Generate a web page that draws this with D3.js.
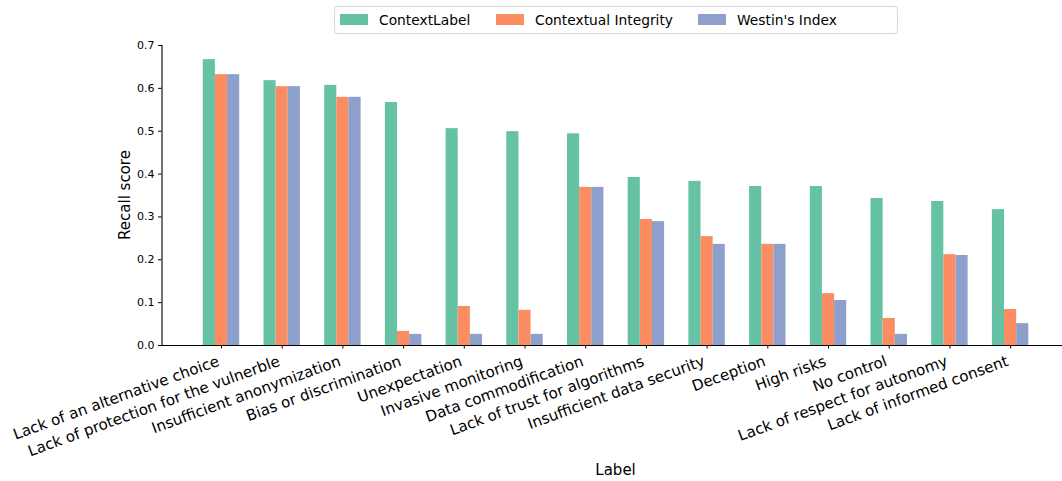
<!DOCTYPE html>
<html>
<head>
<meta charset="utf-8">
<script src="https://cdn.jsdelivr.net/npm/d3@7"></script>
<style>
  html, body { margin: 0; padding: 0; background: #fff; }
  svg { display: block; font-family: "DejaVu Sans", sans-serif; }
</style>
</head>
<body>
<svg id="chart" width="1062" height="481"></svg>
<script>
// Privacy-harm labels and recall per method
const categories = [
  "Lack of an alternative choice",
  "Lack of protection for the vulnerble",
  "Insufficient anonymization",
  "Bias or discrimination",
  "Unexpectation",
  "Invasive monitoring",
  "Data commodification",
  "Lack of trust for algorithms",
  "Insufficient data security",
  "Deception",
  "High risks",
  "No control",
  "Lack of respect for autonomy",
  "Lack of informed consent"
];
const seriesNames = ["ContextLabel", "Contextual Integrity", "Westin's Index"];
const contextLabel = [0.667, 0.618, 0.607, 0.567, 0.506, 0.499, 0.494, 0.392, 0.383, 0.371, 0.371, 0.343, 0.336, 0.317];
const contextualIntegrity = [0.632, 0.604, 0.579, 0.033, 0.091, 0.082, 0.369, 0.294, 0.254, 0.236, 0.121, 0.063, 0.212, 0.084];
const westinIndex = [0.632, 0.604, 0.579, 0.026, 0.026, 0.026, 0.369, 0.289, 0.236, 0.236, 0.105, 0.026, 0.210, 0.051];
const yTicks = [0.0, 0.1, 0.2, 0.3, 0.4, 0.5, 0.6, 0.7];
const colors = ["#66c2a5", "#fc8d62", "#8da0cb"];

const series = [contextLabel, contextualIntegrity, westinIndex];
const barWidth = 0.2;
const offsets = [-0.2, 0, 0.2];

const svg = d3.select("#chart");
const plot = { left: 161.5, right: 1069.6, top: 45, bottom: 345 };

const x = d3.scaleLinear().domain([-0.98, 13.98]).range([plot.left, plot.right]);
const y = d3.scaleLinear().domain([0, 0.7]).range([plot.bottom, plot.top]);
const bw = x(barWidth) - x(0);

// bars
series.forEach((vals, s) => {
  svg.append("g")
    .selectAll("rect")
    .data(vals)
    .join("rect")
    .attr("x", (d, i) => x(i + offsets[s]) - bw / 2)
    .attr("width", bw)
    .attr("y", d => y(d))
    .attr("height", d => y(0) - y(d))
    .attr("fill", colors[s]);
});

// y axis
const yAxis = svg.append("g")
  .attr("transform", `translate(${plot.left},0)`)
  .call(d3.axisLeft(y).tickValues(yTicks).tickFormat(d3.format(".1f")).tickSize(3.5).tickPadding(3.5));
yAxis.select(".domain").attr("stroke", "#000").attr("stroke-width", 1.1);
yAxis.selectAll(".tick line").attr("stroke", "#000").attr("stroke-width", 1);
yAxis.selectAll(".tick text")
  .attr("font-family", "DejaVu Sans")
  .attr("font-size", 11)
  .attr("fill", "#000");

// x axis with rotated, right-aligned category labels
const xAxis = svg.append("g")
  .attr("transform", `translate(0,${plot.bottom})`)
  .call(d3.axisBottom(x).tickValues(d3.range(categories.length)).tickFormat(i => categories[i]).tickSize(3.5).tickSizeOuter(0));
xAxis.select(".domain").attr("stroke", "#000").attr("stroke-width", 1.1);
xAxis.selectAll(".tick line").attr("stroke", "#000").attr("stroke-width", 1);
const labelFs = 15.1;
xAxis.selectAll(".tick text")
  .attr("font-family", "DejaVu Sans")
  .attr("font-size", labelFs)
  .attr("fill", "#000")
  .attr("text-anchor", "end")
  .attr("y", 0)
  .attr("dy", 0)
  .attr("transform", `translate(${-0.342 * 0.24 * labelFs},${7 + 0.94 * 0.93 * labelFs}) rotate(-20)`);

// axis titles
svg.append("text")
  .attr("x", x(6.5))
  .attr("y", 475)
  .attr("text-anchor", "middle")
  .attr("font-size", 15)
  .attr("fill", "#000")
  .text("Label");

svg.append("text")
  .attr("transform", `translate(130,${(plot.top + plot.bottom) / 2}) rotate(-90)`)
  .attr("text-anchor", "middle")
  .attr("font-size", 15)
  .attr("fill", "#000")
  .text("Recall score");

// legend
const legend = svg.append("g");
legend.append("rect")
  .attr("x", 334.5).attr("y", 6.5)
  .attr("width", 563).attr("height", 27)
  .attr("rx", 3)
  .attr("fill", "#fff").attr("fill-opacity", 0.8)
  .attr("stroke", "#d6d6d6").attr("stroke-width", 1);
const legendX = [340, 496, 698];
seriesNames.forEach((name, i) => {
  legend.append("rect")
    .attr("x", legendX[i]).attr("y", 14)
    .attr("width", 28).attr("height", 11)
    .attr("fill", colors[i]);
  legend.append("text")
    .attr("x", legendX[i] + 39).attr("y", 24.5)
    .attr("font-size", 13.8)
    .attr("fill", "#000")
    .text(name);
});
</script>
</body>
</html>
